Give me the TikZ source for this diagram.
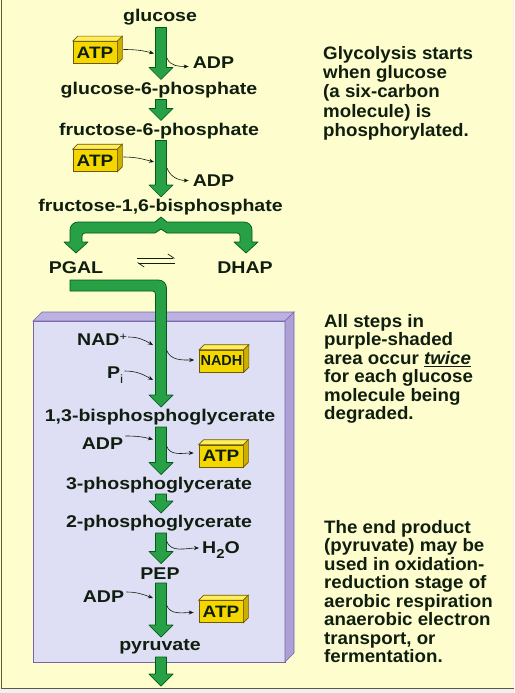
\documentclass[tikz,border=0pt]{standalone}
\usepackage{fontspec}
\setmainfont{Liberation Sans}
\newfontfamily\lblfont{Liberation Sans}[FakeStretch=1.15]
\newfontfamily\notefont{Liberation Sans}[FakeStretch=1.04]
\usetikzlibrary{calc,arrows.meta}
\definecolor{bg}{RGB}{253,253,205}
\definecolor{ink}{RGB}{15,30,15}
\definecolor{gfill}{RGB}{40,160,70}
\definecolor{gedge}{RGB}{0,90,30}
\definecolor{pfront}{RGB}{222,222,244}
\definecolor{ptop}{RGB}{188,178,226}
\definecolor{pside}{RGB}{172,160,214}
\definecolor{pedge}{RGB}{120,100,170}
\definecolor{yfront}{RGB}{245,215,0}
\definecolor{ytop}{RGB}{255,238,90}
\definecolor{yside}{RGB}{205,175,0}
\definecolor{yedge}{RGB}{110,90,0}
\definecolor{bordercol}{RGB}{90,90,60}
\tikzset{
  lbl/.style={font=\lblfont\fontsize{17}{18}\selectfont\bfseries, text=ink, inner sep=0pt, text height=13pt, text depth=0pt},
  note/.style={font=\notefont\fontsize{18}{18.5}\selectfont\bfseries, text=ink, inner sep=0pt, align=left, anchor=north west},
  garrowsty/.style={fill=gfill, draw=gedge, line width=0.7pt, line join=round},
  tarrow/.style={draw=ink, line width=0.6pt, -{Stealth[length=5pt,width=4pt]}},
  harp/.style={draw=ink, line width=0.7pt, -{Straight Barb[left,length=6pt,width=8pt]}},
  yboxsty/.style={fill=yfront, draw=yedge, line width=0.6pt, minimum width=44pt, minimum height=22pt, inner sep=0pt, text=ink},
}
% vertical green arrow from point #1 down to tip #2, stem centred at x=161
\newcommand\garrow[2]{%
  \draw[garrowsty] let \p1=(#1), \p2=(#2) in
  (155.5pt,\y1) -- (166.5pt,\y1) -- (166.5pt,\y2+12pt) -- (173pt,\y2+12pt) -- (161pt,\y2)
  -- (149pt,\y2+12pt) -- (155.5pt,\y2+12pt) -- cycle;}
% yellow 3-D box: name, x, y, text, font
\newcommand\ybox[5]{%
  \node[yboxsty,font=#5] (#1) at (#2,#3) {#4};
  \filldraw[fill=ytop,draw=yedge,line width=0.6pt] (#1.north west) -- ++(5pt,5pt) -- ($(#1.north east)+(5pt,5pt)$) -- (#1.north east) -- cycle;
  \filldraw[fill=yside,draw=yedge,line width=0.6pt] (#1.north east) -- ++(5pt,5pt) -- ($(#1.south east)+(5pt,5pt)$) -- (#1.south east) -- cycle;}
\begin{document}
\begin{tikzpicture}[x=1pt,y=-1pt]
\useasboundingbox (0,0) rectangle (514,693);
\fill[gray!12] (0,0) rectangle (514,693);
\fill[bg] (0,0) rectangle (513,688);
\draw[bordercol,line width=1pt] (1.5,0) -- (1.5,688.5) -- (514,688.5);

% purple-shaded area
\filldraw[fill=pfront,draw=pedge,line width=0.6pt] (33,321) rectangle (285,662);
\filldraw[fill=ptop,draw=pedge,line width=0.6pt] (33,321) -- (42,312) -- (294,312) -- (285,321) -- cycle;
\filldraw[fill=pside,draw=pedge,line width=0.6pt] (285,321) -- (294,312) -- (294,653) -- (285,662) -- cycle;

% labels
\node[lbl] (glucose) at (160,15.5) {glucose};
\node[lbl] (g6p) at (159,87.5) {glucose-6-phosphate};
\node[lbl] (f6p) at (159,128.5) {fructose-6-phosphate};
\node[lbl] (f16bp) at (160.5,205) {fructose-1,6-bisphosphate};
\node[lbl] (pgal) at (76,266.5) {PGAL};
\node[lbl] (dhap) at (245,266.5) {DHAP};
\node[lbl] (b13) at (160,415) {1,3-bisphosphoglycerate};
\node[lbl] (p3) at (159,482.5) {3-phosphoglycerate};
\node[lbl] (p2) at (159,521) {2-phosphoglycerate};
\node[lbl] (pep) at (160,572.5) {PEP};
\node[lbl] (pyr) at (160,644) {pyruvate};
\node[lbl] (adp1) at (213.5,62.5) {ADP};
\node[lbl] (adp2) at (213.5,179.5) {ADP};
\node[lbl,anchor=west] (nad) at (77,339) {NAD\raisebox{5pt}{\fontsize{11}{11}\selectfont\mdseries +}};
\node[lbl,anchor=west] (pi) at (107,372) {P\raisebox{-5pt}{\fontsize{12}{12}\selectfont\mdseries i}};
\node[lbl] (adp3) at (102.5,442.5) {ADP};
\node[lbl] (adp4) at (103.5,596) {ADP};
\node[lbl,anchor=west] (h2o) at (202,547) {H\raisebox{-5pt}{\fontsize{13}{13}\selectfont 2}O};

% notes
\node[note,font=\notefont\fontsize{18}{19.3}\selectfont\bfseries] (note1) at (323,46) {Glycolysis starts\\when glucose\\(a six-carbon\\molecule) is\\phosphorylated.};
\node[note] (note2) at (324,314) {All steps in\\purple-shaded\\area occur \underline{\textit{twice}}\\for each glucose\\molecule being\\degraded.};
\node[note] (note3) at (324,520) {The end product\\(pyruvate) may be\\used in oxidation-\\reduction stage of\\aerobic respiration\\anaerobic electron\\transport, or\\fermentation.};

% green main arrows
\garrow{$(glucose)+(0,12)$}{$(g6p)+(0,-8)$}
\garrow{$(g6p)+(0,12)$}{$(f6p)+(0,-8)$}
\garrow{$(f6p)+(0,12)$}{$(f16bp)+(0,-8)$}
\garrow{$(b13)+(0,12)$}{$(p3)+(0,-8)$}
\garrow{$(p3)+(0,11.5)$}{$(p2)+(0,-8)$}
\garrow{$(p2)+(0,12)$}{$(pep)+(0,-9)$}
\garrow{$(pep)+(0,10.5)$}{$(pyr)+(0,-7)$}
\coordinate (endtip) at (161,686);
\garrow{$(pyr)+(0,13)$}{endtip}

% split into PGAL and DHAP
\draw[garrowsty] ($(f16bp)+(0.5,12)$) -- ++(6,5) -- ++(77,0)
  arc[start angle=90,end angle=0,radius=8pt] -- ++(0,12) -- ++(6,0) -- ++(-12,11) -- ++(-12,-11) -- ++(6,0)
  -- ++(0,-6) arc[start angle=0,end angle=90,radius=3pt] -- ++(-70,0) -- ++(-6,-4) -- ++(-6,4) -- ++(-70,0)
  arc[start angle=90,end angle=180,radius=3pt] -- ++(0,6) -- ++(6,0) -- ++(-12,11) -- ++(-12,-11) -- ++(6,0)
  -- ++(0,-12) arc[start angle=180,end angle=90,radius=8pt] -- ++(77,0) -- cycle;

% PGAL into the purple area
\draw[garrowsty] ($(pgal)+(-6,13.5)$) -- ++(88.5,0) arc[start angle=90,end angle=0,radius=8pt]
  -- ++(0,107) -- ++(6.5,0) -- ++(-12,12) -- ++(-12,-12) -- ++(6.5,0) -- ++(0,-101)
  arc[start angle=0,end angle=90,radius=3pt] -- ++(-82.5,0) -- cycle;

% equilibrium harpoons
\coordinate (eqa) at (137,258);
\coordinate (eqb) at (175,258);
\coordinate (eqc) at (175,263);
\coordinate (eqd) at (137,263);
\draw[harp] (eqa) -- (eqb);
\draw[harp] (eqc) -- (eqd);

% yellow boxes
\ybox{atp1}{95}{52.5}{ATP}{\lblfont\fontsize{16.5}{17}\selectfont\bfseries}
\ybox{atp2}{95}{160.5}{ATP}{\lblfont\fontsize{16.5}{17}\selectfont\bfseries}
\ybox{nadh}{221.5}{361}{NADH}{\fontsize{14.5}{15}\selectfont\bfseries}
\ybox{atp3}{221}{456}{ATP}{\lblfont\fontsize{16.5}{17}\selectfont\bfseries}
\ybox{atp4}{221}{611.5}{ATP}{\lblfont\fontsize{16.5}{17}\selectfont\bfseries}

% small reaction arrows
\coordinate (c1) at (154,53.5);
\draw[tarrow] ($(atp1.east)+(6,-3)$) to[out=0,in=165] (c1);
\coordinate (d1) at (167,58);
\draw[tarrow] (d1) to[out=-70,in=180] ($(adp1.west)+(-4,4)$);
\coordinate (c2) at (154,162);
\draw[tarrow] ($(atp2.east)+(6,-3.5)$) to[out=0,in=165] (c2);
\coordinate (d2) at (167,168);
\draw[tarrow] (d2) to[out=-70,in=180] ($(adp2.west)+(-4,1)$);
\coordinate (c3) at (153,345);
\draw[tarrow] ($(nad.east)+(1,-2)$) to[out=0,in=150] (c3);
\coordinate (d3) at (166.5,350);
\draw[tarrow] (d3) to[out=-70,in=180] ($(nadh.west)+(-5,-1)$);
\coordinate (c4) at (153,380);
\draw[tarrow] ($(pi.east)+(1,-1)$) to[out=0,in=150] (c4);
\coordinate (c5) at (153,439.5);
\draw[tarrow] ($(adp3.east)+(2,-6.5)$) to[out=0,in=165] (c5);
\coordinate (d5) at (166.5,446);
\draw[tarrow] (d5) to[out=-70,in=180] ($(atp3.west)+(-5,-3)$);
\coordinate (d6) at (166.5,541);
\draw[tarrow] (d6) to[out=-70,in=180] ($(h2o.west)+(-3,1)$);
\coordinate (c7) at (153,598);
\draw[tarrow] ($(adp4.east)+(2,-4)$) to[out=0,in=160] (c7);
\coordinate (d7) at (166.5,605);
\draw[tarrow] (d7) to[out=-70,in=180] ($(atp4.west)+(-5,1)$);
\end{tikzpicture}
\end{document}
